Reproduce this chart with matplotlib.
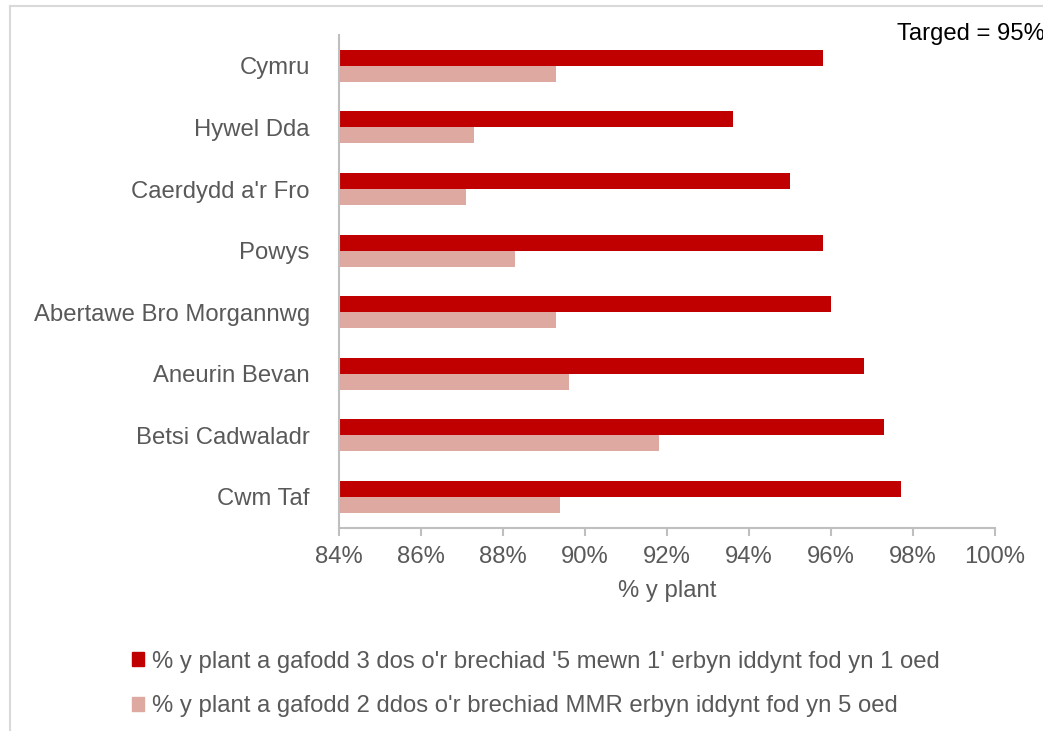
import numpy as np
import matplotlib.pyplot as plt
from matplotlib.patches import Patch
from matplotlib.lines import Line2D

plt.rcParams['font.family'] = ['Liberation Sans', 'DejaVu Sans']

# data
regions = ["Cymru", "Hywel Dda", "Caerdydd a'r Fro", "Powys",
           "Abertawe Bro Morgannwg", "Aneurin Bevan", "Betsi Cadwaladr", "Cwm Taf"]
five_in_one = [95.8, 93.6, 95.0, 95.8, 96.0, 96.8, 97.3, 97.7]
mmr_two = [89.3, 87.3, 87.1, 88.3, 89.3, 89.6, 91.8, 89.4]
xticks = [84, 86, 88, 90, 92, 94, 96, 98, 100]
label_5in1 = "% y plant a gafodd 3 dos o'r brechiad '5 mewn 1' erbyn iddynt fod yn 1 oed"
label_mmr = "% y plant a gafodd 2 ddos o'r brechiad MMR erbyn iddynt fod yn 5 oed"

dark = "#C00000"
light = "#DDA9A0"
grey = "#595959"
axcol = "#BFBFBF"
fs = 17.2

fig = plt.figure(figsize=(10.43, 7.31), dpi=100, facecolor="white")
ax = fig.add_axes([0.325, 0.278, 0.629, 0.674])

y = np.arange(len(regions))
h = 0.26
ax.barh(y - h / 2, five_in_one, height=h, color=dark)
ax.barh(y + h / 2, mmr_two, height=h, color=light)

ax.set_xlim(84, 100)
ax.set_ylim(len(regions) - 0.5, -0.5)
ax.set_xticks(xticks)
ax.set_xticklabels([f"{t}%" for t in xticks])
ax.set_yticks(y)
ax.set_yticklabels(regions)
ax.tick_params(axis='x', colors=axcol, labelcolor=grey, labelsize=fs,
               length=6, width=1.5, pad=7)
ax.tick_params(axis='y', length=0, labelcolor=grey, labelsize=fs, pad=21)
ax.set_xlabel("% y plant", color=grey, fontsize=fs, labelpad=9)

for s in ['top', 'right']:
    ax.spines[s].set_visible(False)
for s in ['left', 'bottom']:
    ax.spines[s].set_color(axcol)
    ax.spines[s].set_linewidth(1.5)

fig.text(897 / 1043, 1 - 34 / 731, "Targed = 95%", fontsize=fs,
         color="black", va='center', ha='left')

handles = [Patch(color=dark, label=label_5in1), Patch(color=light, label=label_mmr)]
fig.legend(handles=handles, loc='upper left', bbox_to_anchor=(122 / 1043, 1 - 641 / 731),
           frameon=False, fontsize=fs, labelcolor=grey, handlelength=0.5,
           handleheight=0.5, handletextpad=0.35, labelspacing=0.95, borderaxespad=0)

# outer chart border (top and left visible)
fig.add_artist(Line2D([10 / 1043, 1], [1 - 6 / 731, 1 - 6 / 731],
                      transform=fig.transFigure, color="#D9D9D9", lw=1.5))
fig.add_artist(Line2D([10 / 1043, 10 / 1043], [1 - 6 / 731, 0],
                      transform=fig.transFigure, color="#D9D9D9", lw=1.5))

fig.savefig("out.png", dpi=100)
